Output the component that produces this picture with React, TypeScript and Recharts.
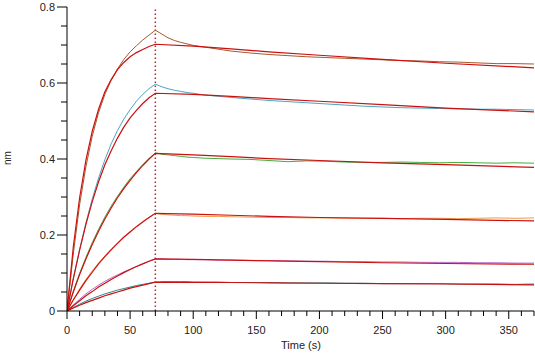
import React from 'react';
import { LineChart, Line, XAxis, YAxis, ReferenceLine } from 'recharts';

// sample times (s)
const fitTimes = [0, 5, 10, 15, 20, 25, 30, 35, 40, 45, 50, 55, 60, 65, 70, 100, 130, 160, 200, 250, 300, 370];
const measTimes = [
  0, 5, 10, 15, 20, 25, 30, 35, 40, 45, 50, 55, 60, 65, 70, 73, 76, 80, 85, 90, 95, 100, 110, 120, 130,
  145, 160, 175, 190, 205, 220, 235, 250, 265, 280, 295, 310, 325, 340, 355, 370,
];

// 1:1 fit curves (nm)
const fit1 = [0, 0.169, 0.298, 0.397, 0.473, 0.531, 0.577, 0.609, 0.635, 0.654, 0.669, 0.68, 0.688, 0.696, 0.702, 0.697, 0.69, 0.682, 0.673, 0.662, 0.652, 0.64];
const fit2 = [0, 0.085, 0.16, 0.228, 0.288, 0.34, 0.385, 0.422, 0.455, 0.484, 0.508, 0.528, 0.546, 0.561, 0.573, 0.57, 0.565, 0.559, 0.552, 0.543, 0.534, 0.524];
const fit3 = [0, 0.05, 0.096, 0.137, 0.175, 0.21, 0.242, 0.271, 0.298, 0.322, 0.344, 0.364, 0.383, 0.4, 0.415, 0.411, 0.406, 0.401, 0.396, 0.39, 0.385, 0.378];
const fit4 = [0, 0.029, 0.055, 0.08, 0.102, 0.124, 0.143, 0.161, 0.178, 0.194, 0.208, 0.222, 0.234, 0.246, 0.257, 0.255, 0.252, 0.249, 0.246, 0.244, 0.241, 0.237];
const fit5 = [0, 0.014, 0.027, 0.04, 0.051, 0.063, 0.073, 0.083, 0.092, 0.101, 0.109, 0.117, 0.124, 0.131, 0.137, 0.136, 0.134, 0.132, 0.13, 0.127, 0.125, 0.123];
const fit6 = [0, 0.008, 0.015, 0.022, 0.028, 0.034, 0.04, 0.045, 0.05, 0.055, 0.06, 0.064, 0.068, 0.072, 0.076, 0.0755, 0.075, 0.074, 0.073, 0.072, 0.071, 0.069];

// measured responses (nm)
const meas1 = [
  0, 0.15, 0.28, 0.38, 0.46, 0.522, 0.57, 0.607, 0.637, 0.662, 0.682, 0.698, 0.713, 0.726, 0.739, 0.733, 0.727, 0.719, 0.712, 0.707,
  0.703, 0.699, 0.694, 0.689, 0.684, 0.679, 0.675, 0.672, 0.669, 0.667, 0.665, 0.663, 0.661, 0.659, 0.658, 0.656, 0.655, 0.653, 0.651, 0.651, 0.65,
];
const meas2 = [
  0, 0.085, 0.162, 0.232, 0.295, 0.35, 0.398, 0.44, 0.475, 0.505, 0.53, 0.552, 0.57, 0.585, 0.597, 0.593, 0.589, 0.585, 0.581, 0.578,
  0.575, 0.573, 0.568, 0.565, 0.562, 0.558, 0.554, 0.551, 0.548, 0.545, 0.542, 0.539, 0.537, 0.535, 0.534, 0.533, 0.532, 0.531, 0.531, 0.53, 0.529,
];
const meas3 = [
  0, 0.052, 0.099, 0.141, 0.18, 0.215, 0.247, 0.276, 0.302, 0.326, 0.348, 0.367, 0.385, 0.401, 0.416, 0.414, 0.412, 0.411, 0.409, 0.407,
  0.405, 0.404, 0.402, 0.401, 0.4, 0.399, 0.396, 0.393, 0.395, 0.394, 0.392, 0.391, 0.391, 0.392, 0.391, 0.39, 0.391, 0.39, 0.389, 0.39, 0.389,
];
const meas4 = [
  0, 0.03, 0.058, 0.083, 0.106, 0.126, 0.145, 0.163, 0.179, 0.195, 0.209, 0.222, 0.235, 0.246, 0.257, 0.255, 0.254, 0.253, 0.252, 0.251,
  0.251, 0.25, 0.249, 0.249, 0.248, 0.247, 0.246, 0.246, 0.245, 0.245, 0.244, 0.244, 0.244, 0.243, 0.244, 0.244, 0.243, 0.244, 0.245, 0.244, 0.245,
];
const meas5 = [
  0, 0.016, 0.031, 0.045, 0.057, 0.068, 0.078, 0.087, 0.095, 0.103, 0.11, 0.117, 0.124, 0.131, 0.137, 0.137, 0.137, 0.136, 0.136, 0.136,
  0.135, 0.135, 0.135, 0.134, 0.134, 0.133, 0.133, 0.132, 0.131, 0.131, 0.13, 0.13, 0.129, 0.129, 0.128, 0.128, 0.128, 0.127, 0.127, 0.126, 0.126,
];
const meas6 = [
  0, 0.009, 0.018, 0.026, 0.033, 0.039, 0.045, 0.05, 0.055, 0.059, 0.063, 0.067, 0.07, 0.073, 0.076, 0.076, 0.077, 0.077, 0.077, 0.077,
  0.077, 0.076, 0.076, 0.076, 0.075, 0.075, 0.075, 0.074, 0.074, 0.074, 0.073, 0.073, 0.072, 0.072, 0.072, 0.072, 0.071, 0.071, 0.071, 0.07, 0.071,
];

const measColors = ['#a9582a', '#4aa6bf', '#44ad3c', '#f09a48', '#b868c8', '#2f8585'];
const fitColor = '#cc1010';

// ticks
const xTicks = [0, 10, 20, 30, 40, 50, 60, 70, 80, 90, 100, 110, 120, 130, 140, 150, 160, 170, 180, 190, 200, 210, 220, 230, 240, 250, 260, 270, 280, 290, 300, 310, 320, 330, 340, 350, 360, 370];
const xLabelTicks = [0, 50, 100, 150, 200, 250, 300, 350];
const yTicks = [0, 0.05, 0.1, 0.15, 0.2, 0.25, 0.3, 0.35, 0.4, 0.45, 0.5, 0.55, 0.6, 0.65, 0.7, 0.75, 0.8];
const yLabelTicks = [0, 0.2, 0.4, 0.6, 0.8];

const fitData = fitTimes.map((t, i) => ({ t, f1: fit1[i], f2: fit2[i], f3: fit3[i], f4: fit4[i], f5: fit5[i], f6: fit6[i] }));
const measData = measTimes.map((t, i) => ({ t, m1: meas1[i], m2: meas2[i], m3: meas3[i], m4: meas4[i], m5: meas5[i], m6: meas6[i] }));

const font = '"Liberation Sans", Arial, sans-serif';

const XTick = (props: any) => {
  const { x, y, payload } = props;
  const major = xLabelTicks.includes(payload.value);
  return (
    <g>
      <line x1={x} x2={x} y1={y} y2={y + (major ? 8 : 5)} stroke="#000" />
      {major && (
        <text x={x} y={y + 23} textAnchor="middle" fontSize={11} fontFamily={font} fill="#222">
          {payload.value}
        </text>
      )}
    </g>
  );
};

const YTick = (props: any) => {
  const { x, y, payload } = props;
  const major = yLabelTicks.some((v) => Math.abs(v - payload.value) < 1e-6);
  return (
    <g>
      <line x1={x - (major ? 10 : 6)} x2={x} y1={y} y2={y} stroke="#000" />
      {major && (
        <text x={x - 12} y={y + 4} textAnchor="end" fontSize={11} fontFamily={font} fill="#222">
          {payload.value}
        </text>
      )}
    </g>
  );
};

export default function App() {
  return (
    <div style={{ position: 'absolute', left: 0, top: 0, width: 535, height: 353, background: '#fff' }}>
      <LineChart width={535} height={353} margin={{ top: 7, right: 1, left: 0, bottom: 0 }}>
        <XAxis
          type="number"
          dataKey="t"
          domain={[0, 370]}
          ticks={xTicks}
          interval={0}
          tick={<XTick />}
          tickLine={false}
          tickSize={0}
          tickMargin={0}
          height={42}
          stroke="#000"
          allowDataOverflow
          label={{
            content: () => (
              <text x={301} y={349} textAnchor="middle" fontSize={11} fontFamily={font} fill="#222">
                Time (s)
              </text>
            ),
          }}
        />
        <YAxis
          type="number"
          domain={[0, 0.8]}
          ticks={yTicks}
          interval={0}
          tick={<YTick />}
          tickLine={false}
          tickSize={0}
          tickMargin={0}
          width={67}
          stroke="#000"
          allowDataOverflow
          label={{
            content: () => (
              <text x={11} y={158} transform="rotate(-90 11 158)" textAnchor="middle" fontSize={10} fontFamily={font} fill="#222">
                nm
              </text>
            ),
          }}
        />
        <ReferenceLine x={70} stroke="#b8282a" strokeWidth={1.5} strokeDasharray="1.5 2.5" />

        {/* measured curves */}
        {['m1', 'm2', 'm3', 'm4', 'm5', 'm6'].map((k, i) => (
          <Line
            key={k}
            data={measData}
            dataKey={k}
            type="linear"
            stroke={measColors[i]}
            strokeWidth={1}
            dot={false}
            isAnimationActive={false}
          />
        ))}

        {/* fitted curves */}
        {['f1', 'f2', 'f3', 'f4', 'f5', 'f6'].map((k) => (
          <Line
            key={k}
            data={fitData}
            dataKey={k}
            type="linear"
            stroke={fitColor}
            strokeWidth={1.2}
            dot={false}
            isAnimationActive={false}
          />
        ))}
      </LineChart>
    </div>
  );
}
